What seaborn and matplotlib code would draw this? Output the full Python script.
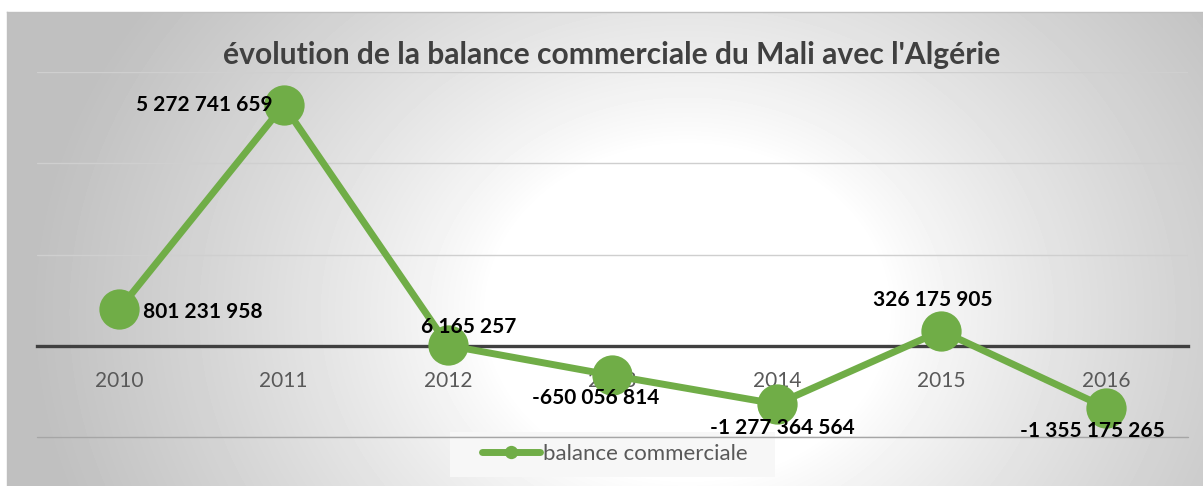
import seaborn as sns
from matplotlib import pyplot as plt
from matplotlib.patches import Rectangle
import numpy as np

years = ['2010', '2011', '2012', '2013', '2014', '2015', '2016']
balance = [801231958, 5272741659, 6165257, -650056814, -1277364564, 326175905, -1355175265]
labels = ['801 231 958', '5 272 741 659', '6 165 257', '-650 056 814',
          '-1 277 364 564', '326 175 905', '-1 355 175 265']
# label offsets in points (dx, dy) and horizontal alignment, as placed in the original
offsets = [(17, -2, 'left'), (-8, 0, 'right'), (15, 13, 'center'), (-12, -16, 'center'),
           (4, -17, 'center'), (-6, 22, 'center'), (-10, -17, 'center')]

GREEN = '#70AD47'

sns.set_theme(style='whitegrid')
plt.rcParams['font.family'] = ['Lato', 'DejaVu Sans']

W, H = 1203, 486
fig = plt.figure(figsize=(W / 100, H / 100), dpi=100)
fig.patch.set_facecolor('white')

# radial grey gradient background of the chart area
bg = fig.add_axes([7 / W, 0, 1 - 7 / W, 1 - 12 / H])
bg.set_zorder(-1)
yy, xx = np.mgrid[0:474, 0:1196]
r = np.hypot(xx - 680, (yy - 300) * 1.2)
shade = 1 - 0.25 * np.clip((r - 200) / 460, 0, 1) ** 0.85
bg.imshow(shade, cmap='gray', vmin=0, vmax=1, aspect='auto', interpolation='bilinear')
bg.set_xticks([])
bg.set_yticks([])
for s in ['right', 'bottom']:
    bg.spines[s].set_visible(False)
for s in ['top', 'left']:
    bg.spines[s].set_color('#bfbfbf')
    bg.spines[s].set_linewidth(1)
# legend box
bg.add_patch(Rectangle((450 / W, 1 - 477 / H), 325 / W, 45 / H, transform=fig.transFigure,
                       facecolor='#f7f7f7', edgecolor='none', clip_on=False, zorder=3))

ax = fig.add_axes([37 / W, 1 - 437 / H, (1188 - 37) / W, (437 - 72) / H])
ax.set_facecolor('none')

sns.lineplot(x=years, y=balance, ax=ax, color=GREEN, linewidth=5, marker='o',
             markersize=29, markeredgewidth=0, label='balance commerciale', sort=False)

ax.set_xlim(-0.5, 6.5)
ax.set_ylim(-2e9, 6e9)
ax.set_yticks([-2e9, 0, 2e9, 4e9, 6e9])
ax.set_yticklabels([])
ax.grid(axis='y', color='#cfcfcf', linewidth=1)
ax.grid(axis='x', visible=False)
ax.axhline(-2e9, color='#a6a6a6', linewidth=1, clip_on=False, zorder=1)
ax.tick_params(axis='both', length=0)
ax.tick_params(axis='x', pad=18, labelsize=15, labelcolor='#595959')
for s in ['top', 'right', 'left']:
    ax.spines[s].set_visible(False)
ax.spines['bottom'].set_position(('data', 0))
ax.spines['bottom'].set_color('#404040')
ax.spines['bottom'].set_linewidth(2.4)
ax.spines['bottom'].set_zorder(1.6)
ax.set_xlabel('')
ax.set_ylabel('')

for i, (v, lab) in enumerate(zip(balance, labels)):
    dx, dy, ha = offsets[i]
    ax.annotate(lab, (i, v), xytext=(dx, dy), textcoords='offset points',
                ha=ha, va='center', fontsize=15, fontweight='bold', color='black', zorder=7)

fig.suptitle("évolution de la balance commerciale du Mali avec l'Algérie",
             x=612 / W, y=1 - 55 / H, va='center', fontsize=21.6, fontweight='bold', color='#404040')

leg = ax.legend(loc='center', bbox_to_anchor=(615 / W, 1 - 454 / H), bbox_transform=fig.transFigure,
                frameon=False, fontsize=16, handlelength=2.6, handletextpad=0.15, markerscale=0.33,
                borderpad=0.3, borderaxespad=0)
for t in leg.get_texts():
    t.set_color('#595959')

fig.savefig('out.png', dpi=100)
